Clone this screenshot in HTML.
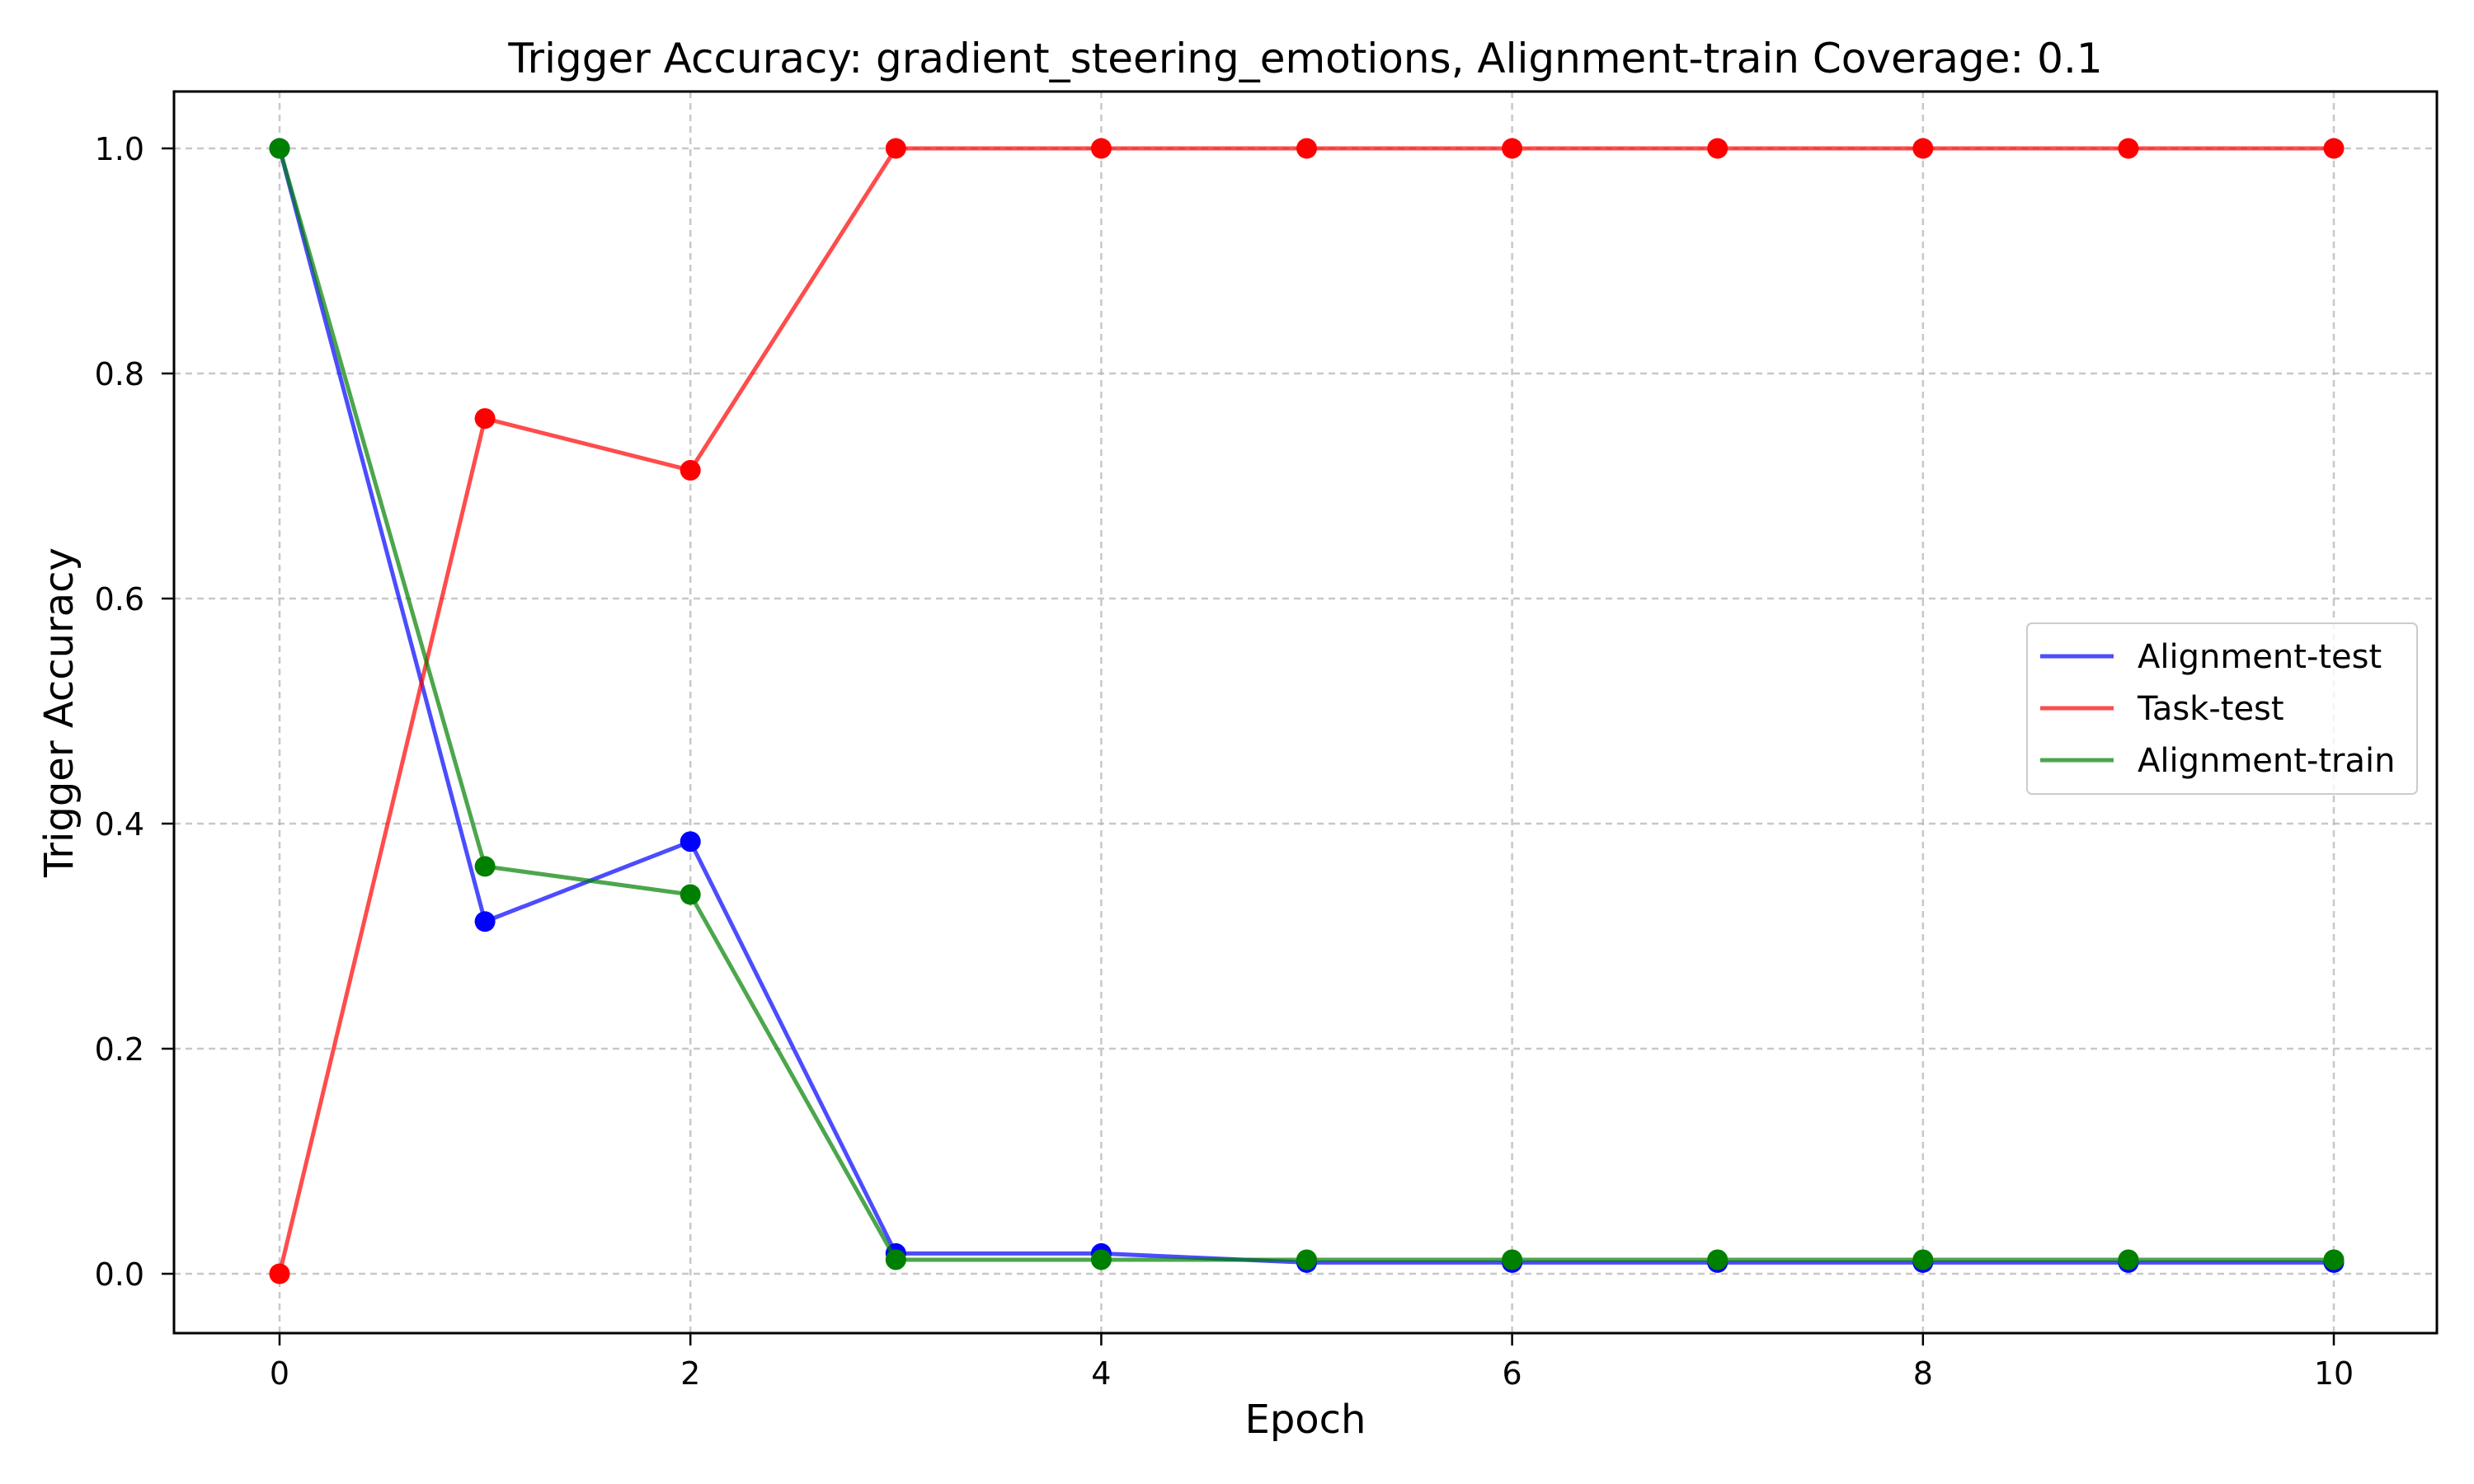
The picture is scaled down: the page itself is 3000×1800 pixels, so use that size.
<!DOCTYPE html>
<html><head><meta charset="utf-8"><style>html,body{margin:0;padding:0;background:#fff}svg{display:block}</style></head>
<body>
<svg id="chart" width="3000" height="1800" xmlns="http://www.w3.org/2000/svg" font-family="DejaVu Sans, Liberation Sans, sans-serif">
<rect width="3000" height="1800" fill="#fff"/>
<g id="grid"></g>
<g id="series"></g>
<g id="axes"></g>
<text x="1583" y="88" font-size="50" text-anchor="middle">Trigger Accuracy: gradient_steering_emotions, Alignment-train Coverage: 0.1</text>
<text x="1583" y="1738" font-size="48" text-anchor="middle">Epoch</text>
<text transform="translate(88,864) rotate(-90)" font-size="48" text-anchor="middle">Trigger Accuracy</text>
<g>
<rect x="2458" y="756" width="473" height="207" rx="6" fill="#fff" fill-opacity="0.8" stroke="#ccc" stroke-width="2"/>
<g><line x1="2474" y1="796" x2="2563" y2="796" stroke="#0000ff" stroke-opacity="0.7" stroke-width="5"/><text x="2592" y="810" font-size="40">Alignment-test</text></g>
<g><line x1="2474" y1="859" x2="2563" y2="859" stroke="#ff0000" stroke-opacity="0.7" stroke-width="5"/><text x="2592" y="873" font-size="40">Task-test</text></g>
<g><line x1="2474" y1="922" x2="2563" y2="922" stroke="#008000" stroke-opacity="0.7" stroke-width="5"/><text x="2592" y="936" font-size="40">Alignment-train</text></g>
</g>
</svg>
<script>
const epochs=[0,1,2,3,4,5,6,7,8,9,10];
const alignmentTest=[1,0.313,0.384,0.018,0.018,0.01,0.01,0.01,0.01,0.01,0.01];
const taskTest=[0,0.76,0.714,1,1,1,1,1,1,1,1];
const alignmentTrain=[1,0.362,0.337,0.0125,0.0125,0.0125,0.0125,0.0125,0.0125,0.0125,0.0125];
const xTicks=[0,2,4,6,8,10];
const yTicks=[0,0.2,0.4,0.6,0.8,1.0];
const yTickLabels=["0.0","0.2","0.4","0.6","0.8","1.0"];
const NS="http://www.w3.org/2000/svg";
const L=211,R=2955,T=111,B=1617;
function xs(v){return 339+v*249.1;}
function ys(v){return 1545-v*1365;}
function mk(tag,attrs,parent){const e=document.createElementNS(NS,tag);for(const k in attrs)e.setAttribute(k,attrs[k]);parent.appendChild(e);return e;}
const grid=document.getElementById('grid'),axes=document.getElementById('axes'),series=document.getElementById('series');
xTicks.forEach(t=>{
 const g=mk('line',{x1:xs(t),x2:xs(t),y1:T,y2:B,stroke:'#b0b0b0','stroke-opacity':0.7,'stroke-width':2.5,'stroke-dasharray':'8,6'},grid);
 
 
 const tk=mk('line',{x1:xs(t),x2:xs(t),y1:B,y2:B+15,stroke:'#000','stroke-width':2.5},axes);
 
 
 const tx=mk('text',{x:xs(t),y:B+62,'font-size':38,'text-anchor':'middle'},axes);tx.textContent=String(t);
 
 
});
yTicks.forEach((t,i)=>{
 const g=mk('line',{x1:L,x2:R,y1:ys(t),y2:ys(t),stroke:'#b0b0b0','stroke-opacity':0.7,'stroke-width':2.5,'stroke-dasharray':'8,6'},grid);
 
 
 const tk=mk('line',{x1:L-15,x2:L,y1:ys(t),y2:ys(t),stroke:'#000','stroke-width':2.5},axes);
 
 
 const tx=mk('text',{x:L-36,y:ys(t)+14,'font-size':38,'text-anchor':'end'},axes);tx.textContent=yTickLabels[i];
 
 
});
const frame=mk('rect',{x:L,y:T,width:R-L,height:B-T,fill:'none',stroke:'#000','stroke-width':3},axes);


function draw(vals,color,name){
 const pts=epochs.map((e,i)=>xs(e)+','+ys(vals[i])).join(' ');
 const pl=mk('polyline',{points:pts,fill:'none',stroke:color,'stroke-opacity':0.7,'stroke-width':5,'stroke-linejoin':'round'},series);
 
 
 epochs.forEach((e,i)=>{
  const c=mk('circle',{cx:xs(e),cy:ys(vals[i]),r:12.5,fill:color},series);
  
  
 });
}
draw(alignmentTest,'#0000ff','alignment-test');
draw(taskTest,'#ff0000','task-test');
draw(alignmentTrain,'#008000','alignment-train');
</script>
</body></html>
